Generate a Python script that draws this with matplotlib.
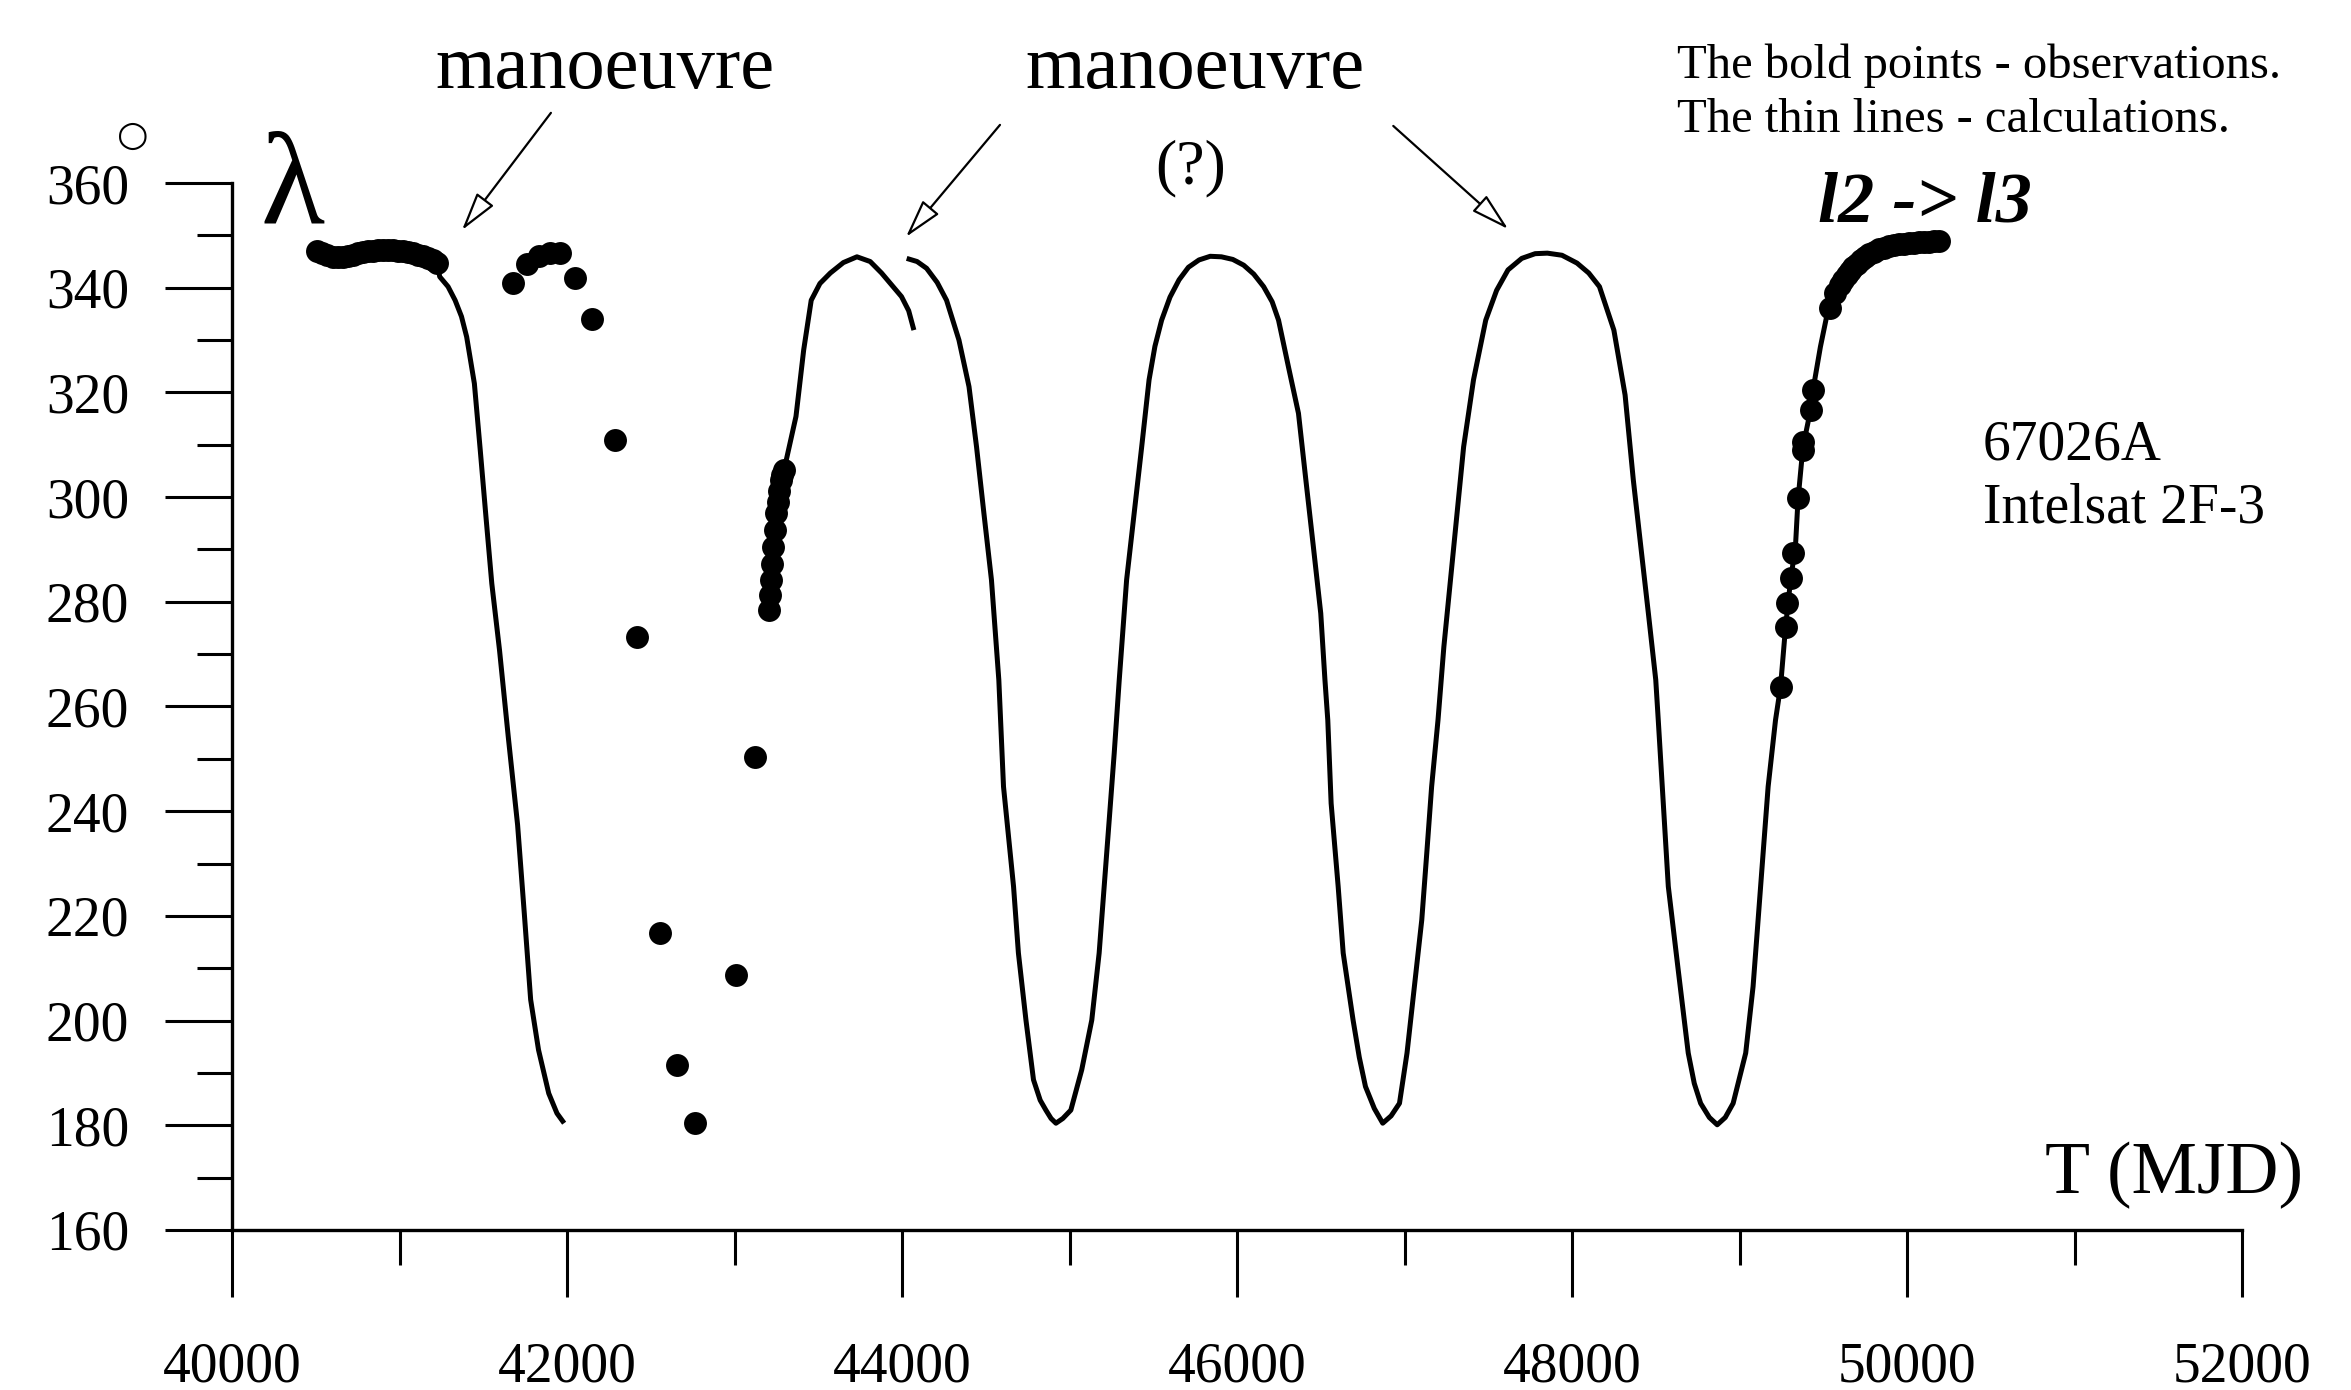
import numpy as np
import matplotlib
matplotlib.use("Agg")
import matplotlib.pyplot as plt
from matplotlib.ticker import MultipleLocator

# ---- observations (bold points) ----
obs1_t = [40510, 40540, 40570, 40600, 40630, 40660, 40690, 40720, 40750, 40780,
          40810, 40840, 40870, 40900, 40930, 40960, 40990, 41020, 41050, 41080,
          41110, 41140, 41170, 41200, 41225]
obs1_lam = [347.0, 346.6, 346.2, 345.9, 345.8, 345.8, 346.0, 346.3, 346.6, 346.8,
            347.0, 347.1, 347.2, 347.2, 347.2, 347.2, 347.1, 347.0, 346.8, 346.6,
            346.3, 346.0, 345.6, 345.2, 344.8]

obs2_t = [41675, 41760, 41830, 41900, 41958, 42048, 42149, 42287, 42417,
          42554, 42658, 42764, 43009, 43125]
obs2_lam = [340.9, 344.5, 346.0, 346.6, 346.6, 341.9, 334.0, 310.9, 273.3,
            216.7, 191.5, 180.4, 208.7, 250.3]

obs3_t = [43207, 43212, 43216, 43222, 43231, 43240, 43250, 43258, 43267, 43276,
          43286, 43296]
obs3_lam = [278.4, 281.3, 284.2, 287.2, 290.5, 293.7, 296.9, 299.0, 301.2, 303.3,
            304.3, 305.2]

obs4_t = [49245, 49275, 49284, 49305, 49319, 49349, 49379, 49382, 49424, 49439,
          49543, 49573, 49600, 49620, 49640, 49660, 49680, 49700, 49725, 49750,
          49775, 49800, 49830, 49860, 49890, 49920, 49950, 49980, 50010, 50040,
          50070, 50100, 50130, 50160, 50190]
obs4_lam = [263.8, 275.2, 279.7, 284.5, 289.3, 299.8, 309.0, 310.5, 316.6, 320.5,
            336.1, 338.9, 340.6, 341.5, 342.4, 343.2, 343.9, 344.6, 345.3, 345.9,
            346.4, 346.8, 347.3, 347.6, 347.9, 348.1, 348.3, 348.4, 348.5, 348.6,
            348.7, 348.8, 348.8, 348.9, 349.0]

# ---- calculations (thin lines) ----
calc1_t = [41225, 41240, 41290, 41332, 41370, 41401, 41447, 41482, 41516, 41551,
           41597, 41650, 41705, 41745, 41783, 41830, 41891, 41940, 41983]
calc1_lam = [344.8, 342.1, 340.2, 337.6, 334.5, 330.6, 321.7, 309.0, 296.3, 283.5,
             270.8, 254.0, 237.4, 220.5, 204.0, 194.4, 186.1, 182.3, 180.4]

calc2_t = [43207, 43231, 43276, 43296, 43367, 43413, 43458, 43510, 43572, 43650,
           43731, 43810, 43878, 43997, 44040, 44071]
calc2_lam = [278.4, 290.5, 303.3, 305.2, 315.4, 328.1, 337.6, 340.8, 342.8, 344.8,
             345.9, 345.0, 342.8, 338.3, 335.6, 331.9]

calc3_t = [44028, 44090, 44147, 44210, 44266, 44340, 44400, 44445, 44489, 44534,
           44578, 44606, 44666, 44695, 44740, 44785, 44825, 44859, 44890, 44919,
           44960, 45008, 45073, 45133, 45177, 45207, 45237, 45267, 45297, 45341,
           45386, 45431, 45475, 45510, 45550, 45600, 45654, 45710, 45773, 45840,
           45907, 45975, 46040, 46100, 46159, 46210, 46248, 46307, 46367, 46411,
           46456, 46500, 46525, 46542, 46562, 46604, 46634, 46693, 46730, 46767,
           46820, 46870, 46920, 46970, 47015, 47059, 47103, 47133, 47162, 47200,
           47235, 47294, 47353, 47412, 47485, 47550, 47618, 47700, 47780, 47853,
           47940, 48030, 48100, 48164, 48250, 48317, 48366, 48411, 48456, 48500,
           48515, 48545, 48575, 48634, 48694, 48730, 48768, 48820, 48867, 48915,
           48962, 49037, 49081, 49111, 49141, 49171, 49215, 49245, 49275, 49305,
           49334, 49349, 49379, 49424, 49439, 49483, 49528, 49588, 49662, 49720,
           49781, 49850, 49930, 50060, 50198]
calc3_lam = [345.6, 345.0, 343.7, 341.0, 337.6, 330.0, 321.1, 309.6, 296.9, 284.2,
             265.1, 244.7, 225.6, 212.9, 200.1, 188.7, 184.8, 182.9, 181.3, 180.4,
             181.3, 182.9, 190.6, 200.1, 212.9, 225.6, 238.3, 251.1, 265.1, 284.2,
             296.9, 309.6, 322.4, 328.8, 333.8, 338.2, 341.5, 343.9, 345.3, 346.0,
             345.9, 345.4, 344.3, 342.6, 340.2, 337.3, 333.8, 324.9, 316.0, 303.3,
             290.5, 277.8, 265.1, 257.4, 241.5, 225.6, 212.9, 200.1, 193.0, 187.4,
             183.2, 180.4, 181.8, 184.2, 193.8, 206.5, 219.2, 232.0, 244.7, 257.4,
             271.4, 290.5, 309.6, 322.4, 333.8, 339.5, 343.4, 345.6, 346.5, 346.6,
             346.2, 344.7, 342.8, 340.2, 331.9, 319.5, 303.3, 290.5, 277.8, 265.1,
             257.4, 241.5, 225.6, 209.7, 193.8, 188.0, 184.2, 181.5, 180.1, 181.5,
             184.2, 193.8, 206.5, 219.2, 232.0, 244.7, 257.4, 263.8, 275.2, 284.2,
             290.5, 299.4, 309.6, 316.6, 320.5, 328.7, 335.7, 340.2, 344.5, 346.3,
             347.3, 348.1, 348.5, 348.8, 349.0]

xticks = [40000, 42000, 44000, 46000, 48000, 50000, 52000]
yticks = [160, 180, 200, 220, 240, 260, 280, 300, 320, 340, 360]

plt.rcParams["font.family"] = ["Liberation Serif", "DejaVu Serif"]

fig = plt.figure(figsize=(23.51, 13.90), dpi=100)
ax = fig.add_axes([232 / 2351, 160 / 1390, 2010 / 2351, 1047 / 1390])
ax.set_xlim(40000, 52000)
ax.set_ylim(160, 360)

for s in ("top", "right"):
    ax.spines[s].set_visible(False)
for s in ("left", "bottom"):
    ax.spines[s].set_linewidth(2.4)

ax.set_xticks(xticks)
ax.set_yticks(yticks)
ax.xaxis.set_minor_locator(MultipleLocator(1000))
ax.yaxis.set_minor_locator(MultipleLocator(10))
ax.tick_params(which="major", length=48, width=2.2, direction="out", labelsize=40)
ax.tick_params(which="minor", length=25, width=2.2, direction="out")
ax.tick_params(axis="x", which="major", pad=32)
ax.tick_params(axis="y", which="major", pad=26)

line_kw = dict(color="black", lw=3.6, solid_capstyle="butt", solid_joinstyle="round",
               clip_on=False)
ax.plot(calc1_t, calc1_lam, **line_kw)
ax.plot(calc2_t, calc2_lam, **line_kw)
ax.plot(calc3_t, calc3_lam, **line_kw)

dot_kw = dict(ls="none", marker="o", ms=16.5, mfc="black", mec="black", mew=0, clip_on=False)
for t, lam in ((obs1_t, obs1_lam), (obs2_t, obs2_lam), (obs3_t, obs3_lam), (obs4_t, obs4_lam)):
    ax.plot(t, lam, **dot_kw)

# labels and notes around the plot
ax.text(40361, 352.5, "λ", fontsize=95, ha="center", va="baseline")
ax.text(39410, 369.0, "○", fontsize=26, family="DejaVu Sans", ha="center", va="center")
ax.text(50826, 167.1, "T (MJD)", fontsize=53, ha="left", va="baseline")

ax.text(42229, 378.1, "manoeuvre", fontsize=55, ha="center", va="baseline")
ax.text(45749, 378.1, "manoeuvre", fontsize=55, ha="center", va="baseline")
ax.text(45725, 362.7, "(?)", fontsize=46, ha="center", va="center")

arrow_kw = dict(arrowstyle="-|>,head_length=0.8,head_width=0.22", fc="white", ec="black",
                lw=1.6, mutation_scale=30, shrinkA=0, shrinkB=0)
ax.annotate("", xy=(41373, 351.0), xytext=(41904, 373.4), arrowprops=arrow_kw, annotation_clip=False)
ax.annotate("", xy=(44024, 349.7), xytext=(44585, 371.1), arrowprops=arrow_kw, annotation_clip=False)
ax.annotate("", xy=(47619, 351.2), xytext=(46933, 370.9), arrowprops=arrow_kw, annotation_clip=False)

ax.text(48629, 380.1, "The bold points - observations.", fontsize=35, ha="left", va="baseline")
ax.text(48629, 369.7, "The thin lines - calculations.", fontsize=35, ha="left", va="baseline")

ax.text(50108, 352.6, "l2 -> l3", fontsize=52, fontstyle="italic", fontweight="bold",
        ha="center", va="baseline")
ax.text(50452, 307.1, "67026A", fontsize=40, ha="left", va="baseline")
ax.text(50452, 295.1, "Intelsat 2F-3", fontsize=40, ha="left", va="baseline")

fig.savefig("out.png", dpi=100)
